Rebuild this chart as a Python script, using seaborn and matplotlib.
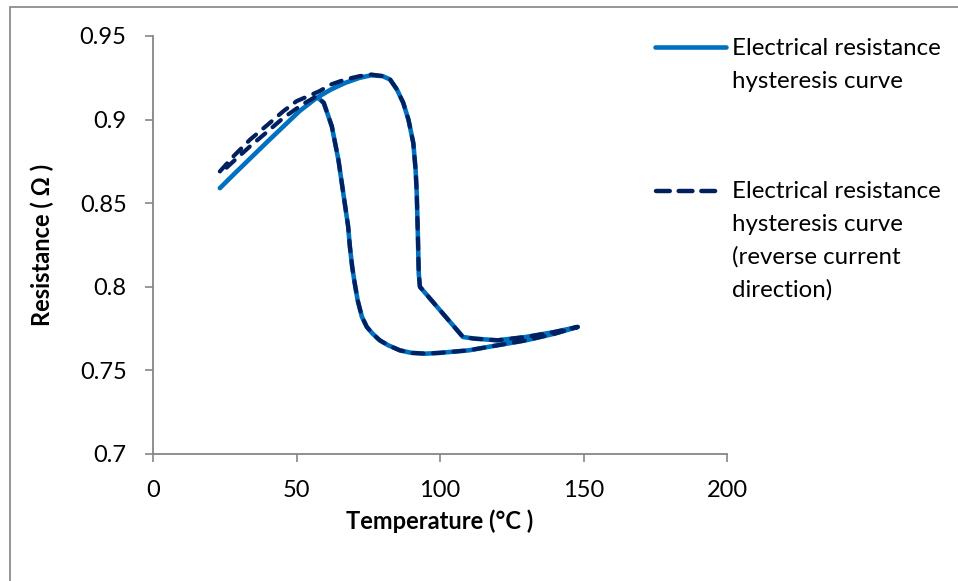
import numpy as np
import pandas as pd
import matplotlib
matplotlib.use("Agg")
import matplotlib.pyplot as plt
from matplotlib.lines import Line2D
from matplotlib.patches import Rectangle
import seaborn as sns

# ---------------- data ----------------
# Solid curve: heating branch then cooling branch
temp_solid = [23.3, 28, 34, 40, 45.5, 51, 57, 62, 67, 72, 76, 80, 82.6, 85, 87.2,
              89, 90.7, 91.5, 91.9, 92.3, 92.6, 93, 97, 101, 105, 108, 112, 120,
              130, 140, 148,
              140, 130, 120, 110, 100, 95, 90, 86, 82, 79, 76.5, 74.5, 72.8, 71.3,
              70.2, 69.4, 68.6, 68, 66.3, 64.6, 62.3, 59.5, 57.5]
res_solid = [0.859, 0.867, 0.877, 0.887, 0.896, 0.905, 0.913, 0.918, 0.922, 0.925, 0.9265, 0.926, 0.924, 0.918, 0.910,
             0.900, 0.886, 0.870, 0.856, 0.830, 0.808, 0.800, 0.792, 0.784, 0.776, 0.770, 0.769, 0.768,
             0.770, 0.773, 0.776,
             0.772, 0.768, 0.765, 0.762, 0.7605, 0.760, 0.7605, 0.762, 0.765, 0.768, 0.772, 0.776, 0.782, 0.792,
             0.803, 0.812, 0.824, 0.836, 0.856, 0.876, 0.896, 0.910, 0.913]

# Dashed curve (reverse current direction): heating, cooling, and return to start
temp_dash = [23.3, 28, 33.8, 40, 45.4, 50, 54, 58, 62, 67, 72, 76, 80, 82.6, 85, 87.2,
             89, 90.7, 91.5, 91.9, 92.3, 92.6, 93, 97, 101, 105, 108, 112, 120,
             130, 140, 148,
             140, 130, 120, 110, 100, 95, 90, 86, 82, 79, 76.5, 74.5, 72.8, 71.3,
             70.2, 69.4, 68.6, 68, 66.3, 64.6, 62.3, 59.5, 57, 52, 45.4, 40, 33.8, 28, 23.6]
res_dash = [0.869, 0.878, 0.888, 0.897, 0.905, 0.911, 0.914, 0.917, 0.921, 0.924, 0.926, 0.927, 0.926, 0.924, 0.918, 0.910,
            0.900, 0.886, 0.870, 0.856, 0.830, 0.808, 0.800, 0.792, 0.784, 0.776, 0.770, 0.769, 0.768,
            0.770, 0.773, 0.776,
            0.772, 0.768, 0.765, 0.762, 0.7605, 0.760, 0.7605, 0.762, 0.765, 0.768, 0.772, 0.776, 0.782, 0.792,
            0.803, 0.812, 0.824, 0.836, 0.856, 0.876, 0.896, 0.910, 0.914, 0.909, 0.901, 0.893, 0.884, 0.875, 0.868]

series_labels = ["Electrical resistance\nhysteresis curve",
                 "Electrical resistance\nhysteresis curve\n(reverse current\ndirection)"]

x_ticks = [0, 50, 100, 150, 200]
y_ticks = [0.7, 0.75, 0.8, 0.85, 0.9, 0.95]
y_tick_labels = ["0.7", "0.75", "0.8", "0.85", "0.9", "0.95"]

x_label = "Temperature (°C )"
y_label = "Resistance ( Ω )"

SOLID_COLOR = "#0070C0"
DASH_COLOR = "#002060"
AXIS_GREY = "#868686"

# ---------------- style ----------------
sns.set_theme(style="ticks")
plt.rcParams["font.family"] = ["Lato", "DejaVu Sans"]

W, H = 958, 581
fig = plt.figure(figsize=(W / 100, H / 100), dpi=100)
fig.patch.set_facecolor("white")

left, right, top, bottom = 153, 727, 36, 454
ax = fig.add_axes([left / W, 1 - bottom / H, (right - left) / W, (bottom - top) / H])

df_solid = pd.DataFrame({"T": temp_solid, "R": res_solid})
df_dash = pd.DataFrame({"T": temp_dash, "R": res_dash})

sns.lineplot(data=df_solid, x="T", y="R", sort=False, estimator=None, ax=ax,
             color=SOLID_COLOR, lw=3.3, solid_capstyle="round", solid_joinstyle="round")
sns.lineplot(data=df_dash, x="T", y="R", sort=False, estimator=None, ax=ax,
             color=DASH_COLOR, lw=3.0, linestyle=(0, (2.6, 2.3)),
             dash_capstyle="round", dash_joinstyle="round")

ax.set_xlim(0, 200)
ax.set_ylim(0.7, 0.95)
ax.set_xticks(x_ticks)
ax.set_xticklabels([str(v) for v in x_ticks])
ax.set_yticks(y_ticks)
ax.set_yticklabels(y_tick_labels)

for s in ["top", "right"]:
    ax.spines[s].set_visible(False)
for s in ["left", "bottom"]:
    ax.spines[s].set_color(AXIS_GREY)
    ax.spines[s].set_linewidth(1.3)

ax.tick_params(axis="both", direction="out", length=6, width=1.2, color=AXIS_GREY,
               labelsize=17, labelcolor="black", pad=13)

ax.set_xlabel(x_label, fontsize=17, fontweight="bold", color="black")
ax.set_ylabel(y_label, fontsize=17, fontweight="bold", color="black")
ax.xaxis.set_label_coords(0.5, (bottom - 521) / (bottom - top))
ax.xaxis.label.set_verticalalignment("center")
ax.yaxis.set_label_coords((42 - left) / (right - left), 0.5)
ax.yaxis.label.set_verticalalignment("center")

# ---------------- legend (manual) ----------------
def fx(px):
    return px / W

def fy(py):
    return 1 - py / H

fig.add_artist(Line2D([fx(655), fx(726)], [fy(47), fy(47)], transform=fig.transFigure,
                      color=SOLID_COLOR, lw=3.3, solid_capstyle="round"))
fig.add_artist(Line2D([fx(656), fx(716)], [fy(191), fy(191)], transform=fig.transFigure,
                      color=DASH_COLOR, lw=3.2, linestyle=(0, (3.1, 2.0)), dash_capstyle="round"))

line_step = 33
for label, base in zip(series_labels, [55, 198]):
    for i, line in enumerate(label.split("\n")):
        fig.text(fx(732), fy(base + i * line_step), line, fontsize=17.3, color="black",
                 ha="left", va="baseline")

# ---------------- outer frame ----------------
fig.add_artist(Rectangle((fx(9.5), fy(H + 20)), fx(W + 20), (H + 20 - 7) / H,
                         transform=fig.transFigure, fill=False, edgecolor="#8c8c8c", lw=1.3))

fig.savefig("out.png", dpi=100, facecolor="white")
